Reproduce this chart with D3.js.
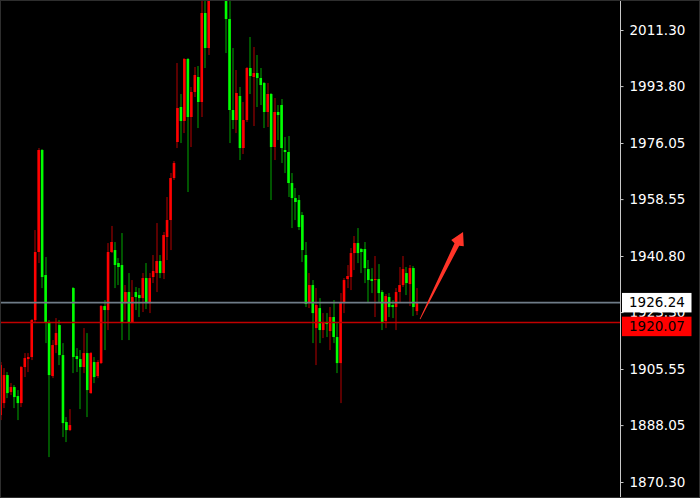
<!DOCTYPE html>
<html>
<head>
<meta charset="utf-8">
<script src="https://cdn.jsdelivr.net/npm/d3@7/dist/d3.min.js"></script>
<style>
  html, body { margin: 0; padding: 0; background: #000; }
  svg { display: block; }
</style>
</head>
<body>
<svg id="chart" width="700" height="498"></svg>
<script>
// OHLC bars, oldest first
const opens = [
  1891.18,1894.92,1903.66,1898.36,1899.92,1897.11,1894.92,1906.16,1908.65,1909.28,
  1920.82,1942.04,1973.86,1934.86,1920.20,1903.35,1913.02,1919.26,1909.90,1889.00,
  1886.50,1930.80,1909.59,1908.65,1906.16,1910.52,1898.04,1907.72,1903.35,1907.40,
  1925.19,1923.94,1942.04,1942.66,1938.60,1937.98,1926.12,1929.56,1920.20,1929.56,
  1928.62,1927.68,1933.92,1926.12,1934.24,1935.48,1939.23,1935.48,1946.72,1952.02,
  1965.12,1976.36,1987.28,1982.91,2002.25,1984.16,1991.96,1996.64,1988.84,2016.60,
  2005.68,2023.78,2030.50,2026.10,2031.60,2025.34,2014.73,1986.34,1983.22,1990.71,
  1974.48,1983.22,1999.44,1996.64,1997.88,1996.32,1994.76,1985.72,1991.33,1974.80,
  1985.72,1987.90,1973.86,1973.24,1963.56,1958.88,1958.26,1953.58,1941.10,1926.44,
  1931.74,1918.32,1924.56,1917.70,1920.20,1917.39,1921.76,1915.52,1907.40,1926.12,
  1933.61,1934.24,1941.72,1944.84,1942.97,1942.97,1936.73,1933.61,1933.30,1933.61,
  1929.56,1920.51,1928.00,1925.50,1924.88,1929.56,1931.74,1935.48,1932.05,1937.04,
  1923.62
];
const highs = [
  1907.72,1905.84,1904.60,1901.16,1900.54,1898.98,1906.47,1910.52,1910.52,1921.13,
  1948.90,1974.48,1974.17,1940.48,1920.82,1914.58,1921.44,1920.82,1913.64,1890.56,
  1893.05,1931.12,1912.08,1911.46,1918.32,1916.76,1910.84,1909.28,1908.34,1925.50,
  1927.06,1944.84,1950.17,1945.16,1940.16,1947.96,1931.74,1935.48,1933.30,1931.12,
  1930.80,1935.48,1938.60,1935.48,1941.10,1951.08,1941.10,1948.28,1959.20,1966.68,
  1970.43,2001.00,1991.33,2002.56,2002.56,1993.52,1999.76,2000.07,2022.22,2021.60,
  2025.34,2033.20,2034.80,2036.20,2033.00,2026.90,2021.00,2005.68,1998.82,1993.52,
  1988.84,1999.76,2009.12,2006.00,2003.50,1999.44,1995.08,1994.76,1991.64,1990.08,
  1987.90,1989.77,1977.92,1978.23,1966.68,1962.00,1959.82,1954.52,1945.16,1935.48,
  1933.30,1930.80,1927.68,1923.00,1923.00,1924.88,1927.06,1919.88,1929.24,1933.92,
  1937.98,1943.28,1947.03,1949.52,1943.28,1945.16,1939.54,1937.04,1940.79,1938.29,
  1930.18,1928.93,1929.24,1927.06,1930.80,1937.36,1940.79,1937.36,1937.98,1937.67,
  1930.80
];
const lows = [
  1889.62,1893.36,1896.48,1897.42,1893.36,1889.62,1893.68,1903.04,1904.60,1908.34,
  1920.20,1938.60,1930.80,1913.64,1878.08,1902.72,1910.52,1906.78,1884.32,1882.76,
  1886.19,1904.28,1904.60,1893.05,1904.28,1890.56,1897.80,1901.16,1902.72,1907.10,
  1911.46,1917.70,1941.72,1930.80,1931.74,1914.58,1920.82,1914.58,1919.90,1923.94,
  1921.76,1923.32,1924.25,1923.00,1932.36,1929.56,1933.92,1933.61,1939.54,1942.66,
  1964.50,1974.48,1976.04,1979.16,1960.76,1974.80,1990.40,1980.72,1984.16,1999.44,
  2003.50,2022.40,2024.00,2024.90,2023.10,2004.12,1976.04,1980.41,1979.16,1970.74,
  1972.61,1982.60,1991.33,1981.35,1987.28,1987.90,1980.72,1981.04,1958.26,1970.74,
  1976.98,1969.80,1966.68,1959.20,1949.52,1952.02,1948.90,1938.92,1924.88,1924.56,
  1913.64,1906.78,1913.64,1915.20,1915.52,1911.46,1913.64,1904.28,1894.92,1923.00,
  1930.80,1930.18,1936.42,1938.60,1935.48,1932.36,1926.44,1929.24,1921.76,1926.12,
  1917.70,1918.32,1921.76,1921.44,1917.70,1926.12,1931.12,1928.62,1925.19,1922.07,
  1922.38
];
const closes = [
  1906.78,1903.66,1898.04,1899.92,1896.80,1894.92,1906.16,1908.96,1909.28,1920.82,
  1942.04,1973.86,1934.24,1920.20,1903.66,1913.02,1916.76,1909.90,1888.68,1886.50,
  1888.06,1909.28,1908.65,1906.16,1910.52,1898.98,1910.52,1903.04,1907.72,1925.19,
  1923.94,1942.04,1945.16,1937.98,1937.36,1920.20,1929.56,1920.20,1928.00,1928.00,
  1927.68,1933.92,1926.12,1933.92,1936.11,1939.23,1935.48,1947.34,1952.02,1965.12,
  1969.80,1986.96,1982.91,2002.25,1984.16,1991.96,1997.26,1988.84,2016.60,2005.68,
  2023.78,2030.50,2026.10,2031.60,2025.80,2014.73,1986.34,1983.22,1991.64,1974.48,
  1983.22,1999.44,1996.95,1997.88,1996.32,1994.14,1985.72,1991.33,1974.80,1985.72,
  1984.78,1974.48,1973.24,1963.56,1958.88,1957.64,1949.84,1942.66,1925.81,1931.74,
  1923.00,1925.50,1917.70,1920.20,1919.57,1921.76,1915.52,1907.40,1926.12,1933.30,
  1934.55,1941.72,1944.84,1941.72,1942.04,1937.04,1933.30,1932.99,1933.61,1929.24,
  1920.20,1928.31,1924.88,1924.88,1929.56,1931.74,1936.73,1932.36,1937.04,1924.88,
  1926.24
];

// price scale labels
const tickValues = [2011.30, 1993.80, 1976.05, 1958.55, 1940.80, 1923.30, 1905.55, 1888.05, 1870.30];

// horizontal price levels: current bid and support line
const bidPrice = 1926.24;
const supportPrice = 1920.07;

// arrow annotation in (bar index, price) units: tail then tip
const arrowFrom = [120.9, 1921.1];
const arrowTo = [133.3, 1948.3];

const bars = opens.map((o, i) => ({ i, o, h: highs[i], l: lows[i], c: closes[i] }));

const W = 700, H = 498, axisX = 620.5;
const svg = d3.select("#chart");

svg.append("rect").attr("width", W).attr("height", H).attr("fill", "#000");

const y = d3.scaleLinear().domain([1870.30, 2011.30]).range([482, 30]);
const x = d3.scaleLinear().domain([0, bars.length - 1]).range([0.5, 416.9]);
const bodyW = 2.6;

const upBody = "#ff0000", upWick = "#b40000";
const dnBody = "#00ff00", dnWick = "#00a800";

svg.append("clipPath").attr("id", "plot")
  .append("rect").attr("x", 1).attr("y", 1).attr("width", axisX - 1).attr("height", H - 2);

const plot = svg.append("g").attr("clip-path", "url(#plot)");

const candle = plot.selectAll("g.bar").data(bars).join("g").attr("class", "bar");

candle.append("rect")
  .attr("x", d => Math.round(x(d.i)) - 0.5)
  .attr("width", 1)
  .attr("y", d => y(d.h))
  .attr("height", d => Math.max(1, y(d.l) - y(d.h)))
  .attr("fill", d => d.c >= d.o ? upWick : dnWick);

candle.append("rect")
  .attr("x", d => x(d.i) - bodyW / 2)
  .attr("width", bodyW)
  .attr("y", d => y(Math.max(d.o, d.c)))
  .attr("height", d => Math.max(1, Math.abs(y(d.o) - y(d.c))))
  .attr("fill", d => d.c >= d.o ? upBody : dnBody);

// price levels
plot.append("line")
  .attr("x1", 0).attr("x2", axisX)
  .attr("y1", y(bidPrice)).attr("y2", y(bidPrice))
  .attr("stroke", "#6f7c88").attr("stroke-width", 1.6);

plot.append("line")
  .attr("x1", 0).attr("x2", axisX)
  .attr("y1", y(supportPrice)).attr("y2", y(supportPrice))
  .attr("stroke", "#c00000").attr("stroke-width", 1.6);

// arrow: tapered shaft with a triangular head
(function drawArrow() {
  const tx = x(arrowFrom[0]), ty = y(arrowFrom[1]);
  const hx = x(arrowTo[0]), hy = y(arrowTo[1]);
  const len = Math.hypot(hx - tx, hy - ty);
  const ux = (hx - tx) / len, uy = (hy - ty) / len;
  const nx = -uy, ny = ux;
  const headLen = 14, headHalf = 7, shaftHalf = 2.6, tailHalf = 0.4;
  const bx = hx - ux * headLen, by = hy - uy * headLen;
  const pts = [
    [tx + nx * tailHalf, ty + ny * tailHalf],
    [bx + nx * shaftHalf, by + ny * shaftHalf],
    [bx + nx * headHalf + ux * 1.5, by + ny * headHalf + uy * 1.5],
    [hx, hy],
    [bx - nx * headHalf + ux * 1.5, by - ny * headHalf + uy * 1.5],
    [bx - nx * shaftHalf, by - ny * shaftHalf],
    [tx - nx * tailHalf, ty - ny * tailHalf]
  ];
  svg.append("path")
    .attr("d", d3.line()(pts) + "Z")
    .attr("fill", "#ff3428");
})();

// price axis
svg.append("line")
  .attr("x1", axisX).attr("x2", axisX).attr("y1", 0).attr("y2", H)
  .attr("stroke", "#c8c8c8").attr("stroke-width", 1);

const axis = svg.append("g")
  .attr("transform", `translate(${axisX},0)`)
  .call(d3.axisRight(y).tickValues(tickValues).tickSize(3).tickPadding(6).tickFormat(d => d.toFixed(2)));
axis.select(".domain").remove();
axis.selectAll(".tick line").attr("stroke", "#c8c8c8");
axis.selectAll(".tick text")
  .attr("fill", "#ffffff")
  .style("font-family", "'DejaVu Sans', Verdana, sans-serif")
  .style("font-size", "13.5px");

// level tags on the price axis
function tag(price, top, bg) {
  const g = svg.append("g");
  g.append("rect")
    .attr("x", 622).attr("y", top).attr("width", 69.5).attr("height", 19.5)
    .attr("fill", bg);
  g.append("text")
    .attr("x", 629).attr("y", top + 9.75).attr("dy", "0.35em")
    .attr("fill", "#000")
    .style("font-family", "'DejaVu Sans', Verdana, sans-serif")
    .style("font-size", "13.5px")
    .text(price.toFixed(2));
}
tag(bidPrice, y(bidPrice) - 9.75, "#ffffff");
tag(supportPrice, y(supportPrice) - 5.8, "#ff0000");

// frame
svg.append("rect")
  .attr("x", 0.5).attr("y", 0.5).attr("width", W - 1).attr("height", H - 1)
  .attr("fill", "none").attr("stroke", "#2e2e2e");
</script>
</body>
</html>
